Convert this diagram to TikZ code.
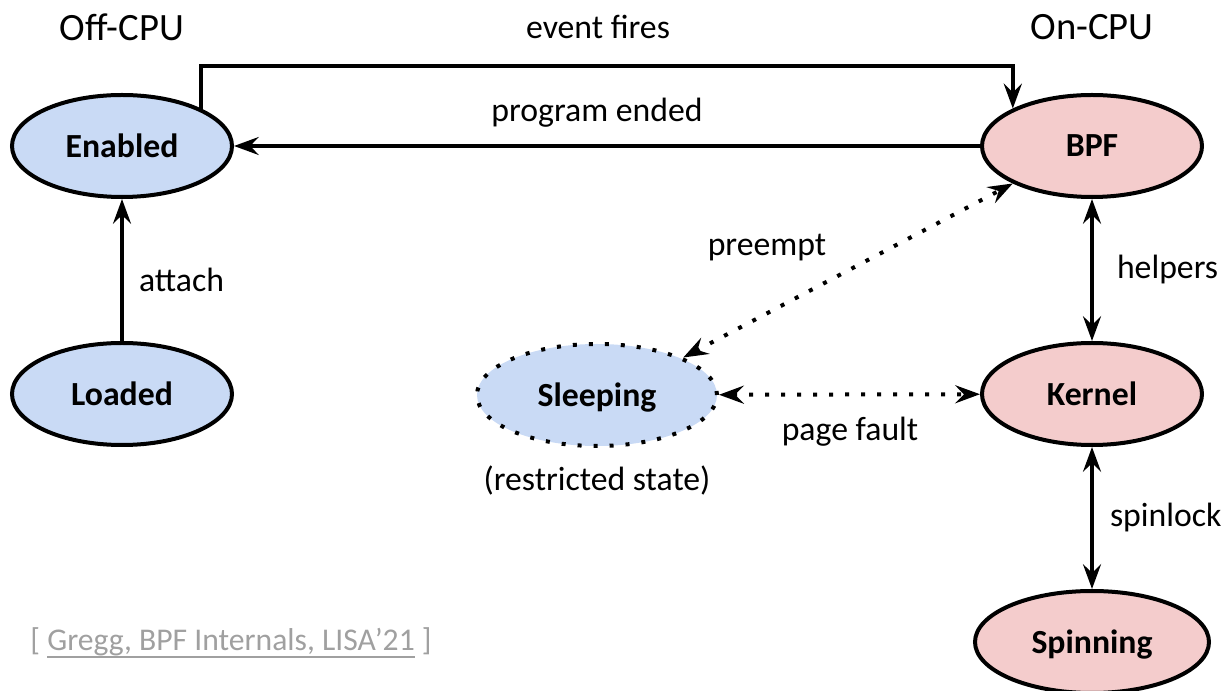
\documentclass[tikz,border=0pt]{standalone}
\usepackage{fontspec}
\setmainfont{Carlito}
\usetikzlibrary{shapes.geometric,arrows.meta,positioning}

\definecolor{offblue}{RGB}{201,218,245}
\definecolor{onpink}{RGB}{244,204,204}
\definecolor{citegray}{RGB}{160,160,160}

\newcommand\citeul[1]{\setbox0\hbox{#1}\rlap{\rule[-0.25em]{\wd0}{0.08em}}\box0\relax}

\tikzstyle{offstate} = [ellipse, minimum width=5.5cm, minimum height=2.55cm, inner sep=0pt, draw=black, line width=0.1cm, fill=offblue, text depth=0pt, font=\fontsize{24}{28}\selectfont\bfseries]
\tikzstyle{onstate} = [offstate, fill=onpink]
\tikzstyle{sleepstate} = [offstate, minimum width=6cm, dash pattern=on 0.1cm off 0.3cm]
\tikzstyle{lbl} = [inner sep=0pt, font=\fontsize{24}{28}\selectfont]
\tikzstyle{header} = [inner sep=0pt, font=\fontsize{27.5}{32}\selectfont]
\tikzstyle{arrow} = [line width=0.1cm, -{Stealth[length=0.62cm, width=0.45cm, inset=0.22cm]}]
\tikzstyle{twoway} = [line width=0.1cm, {Stealth[length=0.62cm, width=0.45cm, inset=0.22cm]}-{Stealth[length=0.62cm, width=0.45cm, inset=0.22cm]}]
\tikzstyle{dotarrow} = [twoway, dash pattern=on 0.1cm off 0.3cm]

\begin{document}
\begin{tikzpicture}[node distance=6.2cm]

    \useasboundingbox (0,0) rectangle (30.65,-17.275);

    % Nodes
    \node (offcpu) [header] at (3.05,-0.675) {Off-CPU};
    \node (oncpu) [header] at (27.3,-0.675) {On-CPU};

    \node (enabled) [offstate] at (3.05,-3.65) {Enabled};
    \node (loaded) [offstate, below of=enabled] {Loaded};

    \node (bpf) [onstate] at (27.3,-3.65) {BPF};
    \node (kernel) [onstate, below of=bpf] {Kernel};
    \node (spinning) [onstate, minimum width=5.85cm, below of=kernel] {Spinning};

    \node (sleeping) [sleepstate] at (14.925,-9.875) {Sleeping};
    \node (restricted) [lbl] at (14.925,-12.025) {(restricted state)};

    \node (fires) [lbl] at (14.95,-0.675) {event fires};
    \node (ended) [lbl] at (14.925,-2.82) {program ended};
    \node (preempt) [lbl] at (19.175,-6.2) {preempt};
    \node (fault) [lbl] at (21.25,-10.8) {page fault};

    \node (cite) [lbl, text=citegray, font=\fontsize{22.5}{26}\selectfont] at (5.775,-16.075) {[ \citeul{Gregg, BPF Internals, LISA’21} ]};

    \coordinate (top) at (0,-1.65);

    % Arrows
    \draw [arrow] (enabled.north east) -- (enabled.north east |- top) -| (bpf.north west);
    \draw [arrow] (bpf) -- (enabled);
    \draw [arrow] (loaded) -- node (attach) [lbl, pos=0.43, anchor=west, xshift=0.375cm] {attach} (enabled);

    \draw [twoway] (bpf) -- node (helpers) [lbl, anchor=west, xshift=0.575cm] {helpers} (kernel);
    \draw [twoway] (kernel) -- node (spinlock) [lbl, anchor=west, xshift=0.4cm] {spinlock} (spinning);

    \draw [dotarrow] (sleeping.north east) -- (bpf.south west);
    \draw [dotarrow] (sleeping) -- (kernel);

\end{tikzpicture}
\end{document}
